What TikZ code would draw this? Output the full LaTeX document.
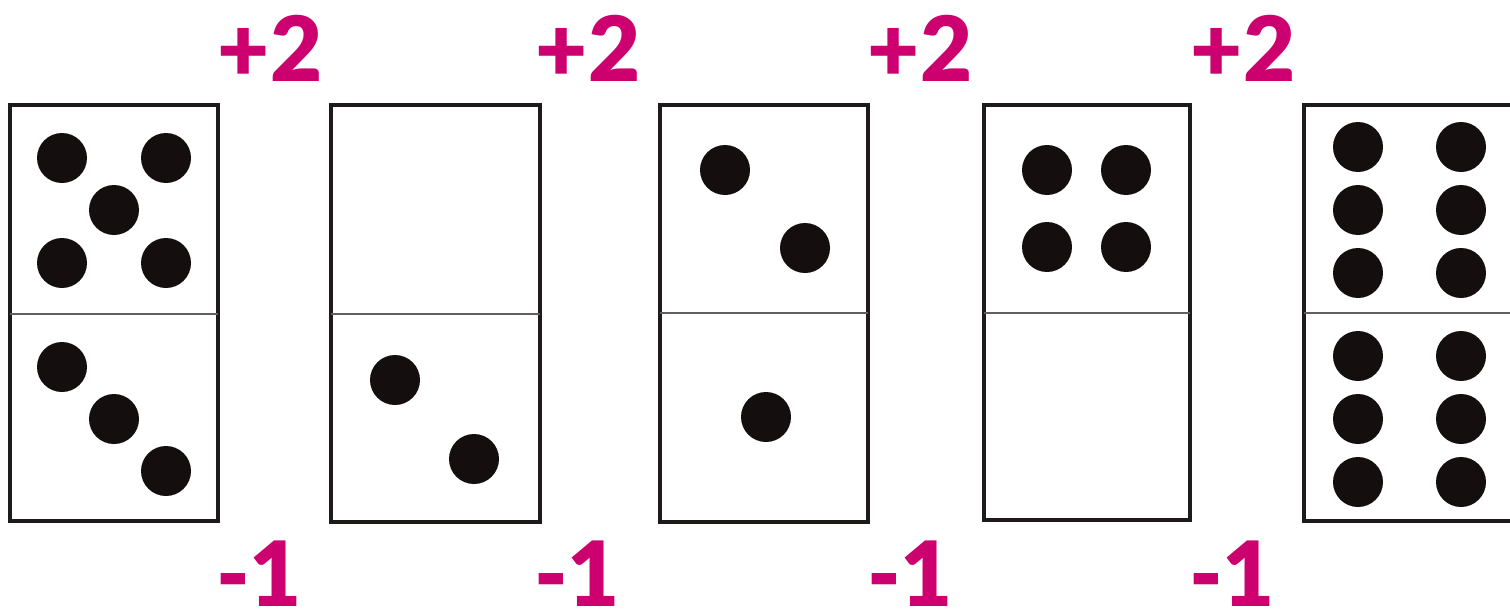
\documentclass[tikz,border=0pt]{standalone}
\usepackage{fontspec}
\newfontfamily\lblfont{Lato}[BoldFont={Lato Black}]
\definecolor{magenta}{RGB}{204,0,110}
\definecolor{edge}{RGB}{30,26,26}
\definecolor{pipcol}{RGB}{20,14,14}
\begin{document}
\begin{tikzpicture}[x=1pt,y=-1pt,
  tile/.style={draw=edge,line width=3.5pt,fill=white},
  divider/.style={draw=edge!70,line width=1.5pt},
  pip/.style={fill=pipcol},
  lbl/.style={text=magenta,font=\lblfont\bfseries\fontsize{90}{90}\selectfont,inner sep=0pt}]
\useasboundingbox (0,0) rectangle (1510,613);
\clip (0,0) rectangle (1510,613);
% domino 1
\draw[tile] (10,105) rectangle (218,521);
\draw[divider] (10,314) -- (218,314);
\foreach \p in {(62,158),(166,158),(114,210),(62,263),(166,263),(62,367),(114,419),(166,471)}
  \fill[pip] \p circle (25);
% domino 2
\draw[tile] (331,105) rectangle (540,522);
\draw[divider] (331,314) -- (540,314);
\foreach \p in {(395,380),(474,459)}
  \fill[pip] \p circle (25);
% domino 3
\draw[tile] (660,105) rectangle (868,522);
\draw[divider] (660,313) -- (868,313);
\foreach \p in {(725,170),(805,248),(766,417)}
  \fill[pip] \p circle (25);
% domino 4
\draw[tile] (984,105) rectangle (1190,520);
\draw[divider] (984,313) -- (1190,313);
\foreach \p in {(1047,170),(1126,170),(1047,247),(1126,247)}
  \fill[pip] \p circle (25);
% domino 5
\draw[tile] (1304,105) rectangle (1530,521);
\draw[divider] (1304,313) -- (1530,313);
\foreach \y in {147,210,273,356,419,482}
  \foreach \x in {1358,1461}
    \fill[pip] (\x,\y) circle (25);
% labels
\node[lbl] (p1) at (270,48) {+2};
\node[lbl] (p2) at (588,48) {+2};
\node[lbl] (p3) at (920,48) {+2};
\node[lbl] (p4) at (1243,48) {+2};
\node[lbl] (m1) at (259,574) {-1};
\node[lbl] (m2) at (577,574) {-1};
\node[lbl] (m3) at (910,574) {-1};
\node[lbl] (m4) at (1232,574) {-1};
\end{tikzpicture}
\end{document}
